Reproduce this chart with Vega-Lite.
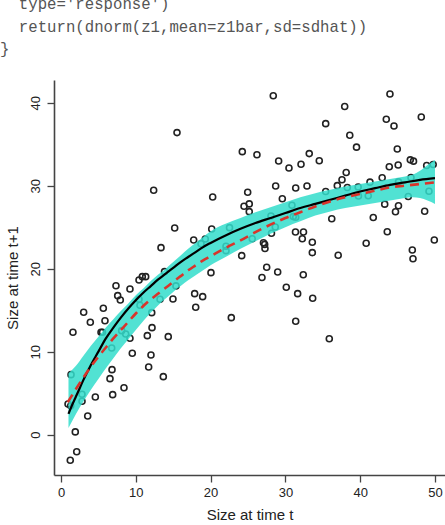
{
  "$schema": "https://vega.github.io/schema/vega-lite/v6.json",
  "width": 391,
  "height": 395,
  "autosize": {"type": "none"},
  "padding": {"left": 54, "top": 80, "right": 0, "bottom": 50},
  "background": "white",
  "title": {
    "text": ["\u200b\u00a0\u00a0type='response')", "\u200b\u00a0\u00a0return(dnorm(z1,mean=z1bar,sd=sdhat))", "}"],
    "anchor": "start",
    "frame": "group",
    "font": "Liberation Mono",
    "fontSize": 15.7,
    "fontWeight": "normal",
    "color": "#555555",
    "lineHeight": 22.5,
    "dx": -54,
    "offset": 22
  },
  "config": {
    "view": {"stroke": null},
    "axis": {
      "grid": false,
      "domainColor": "#444444",
      "domainWidth": 1.6,
      "tickColor": "#444444",
      "tickWidth": 1.3,
      "tickSize": 7,
      "labelFont": "Liberation Sans",
      "labelFontSize": 13,
      "labelColor": "#222222",
      "titleFont": "Liberation Sans",
      "titleFontSize": 15,
      "titleFontWeight": "normal",
      "titleColor": "#222222"
    }
  },
  "datasets": {
    "pts": [
      {"x":15.51,"y":36.39},{"x":12.39,"y":29.45},{"x":15.20,"y":24.90},{"x":13.37,"y":22.53},{"x":10.87,"y":19.04},{"x":11.32,"y":19.04},{"x":13.84,"y":19.64},{"x":28.38,"y":40.84},{"x":24.24,"y":34.10},{"x":26.20,"y":33.73},{"x":29.10,"y":32.98},{"x":33.19,"y":33.86},{"x":30.48,"y":32.13},{"x":32.09,"y":32.58},{"x":28.70,"y":29.96},{"x":31.38,"y":29.72},{"x":32.89,"y":29.96},{"x":20.28,"y":28.64},{"x":24.96,"y":29.20},{"x":29.59,"y":28.43},{"x":24.47,"y":27.52},{"x":25.17,"y":27.80},{"x":25.17,"y":26.87},{"x":30.88,"y":27.64},{"x":31.06,"y":26.27},{"x":31.38,"y":26.19},{"x":28.07,"y":26.35},{"x":20.15,"y":24.78},{"x":22.53,"y":24.94},{"x":28.65,"y":25.02},{"x":28.14,"y":24.27},{"x":31.35,"y":24.42},{"x":32.42,"y":24.42},{"x":32.26,"y":23.61},{"x":33.60,"y":23.18},{"x":17.74,"y":23.46},{"x":19.29,"y":23.58},{"x":18.72,"y":23.01},{"x":25.57,"y":23.61},{"x":27.07,"y":23.13},{"x":27.23,"y":22.92},{"x":27.27,"y":22.43},{"x":22.06,"y":22.70},{"x":22.06,"y":22.17},{"x":24.16,"y":21.57},{"x":33.60,"y":21.93},{"x":20.05,"y":19.52},{"x":27.50,"y":20.17},{"x":28.97,"y":19.60},{"x":26.87,"y":18.94},{"x":32.39,"y":19.27},{"x":43.98,"y":41.05},{"x":37.93,"y":39.54},{"x":35.39,"y":37.47},{"x":43.49,"y":38.00},{"x":44.52,"y":37.19},{"x":48.17,"y":38.28},{"x":38.61,"y":36.08},{"x":39.51,"y":34.64},{"x":44.96,"y":34.42},{"x":34.53,"y":33.01},{"x":43.89,"y":32.28},{"x":45.08,"y":32.49},{"x":46.70,"y":33.11},{"x":47.13,"y":32.95},{"x":48.89,"y":32.43},{"x":49.76,"y":32.55},{"x":38.13,"y":31.59},{"x":37.57,"y":30.71},{"x":36.94,"y":30.00},{"x":35.39,"y":29.30},{"x":38.28,"y":29.78},{"x":39.73,"y":29.84},{"x":41.31,"y":30.42},{"x":42.94,"y":30.95},{"x":45.12,"y":30.45},{"x":46.79,"y":30.99},{"x":49.20,"y":29.33},{"x":39.77,"y":28.76},{"x":41.08,"y":28.78},{"x":46.43,"y":28.70},{"x":43.28,"y":27.77},{"x":45.12,"y":27.58},{"x":44.72,"y":26.86},{"x":48.62,"y":26.92},{"x":36.20,"y":26.01},{"x":41.75,"y":26.17},{"x":43.62,"y":24.45},{"x":37.06,"y":21.61},{"x":40.80,"y":23.06},{"x":46.97,"y":22.25},{"x":47.06,"y":21.19},{"x":49.91,"y":23.46},{"x":7.35,"y":17.95},{"x":9.22,"y":17.55},{"x":10.43,"y":18.64},{"x":15.37,"y":17.92},{"x":7.58,"y":16.75},{"x":7.93,"y":16.23},{"x":10.43,"y":16.31},{"x":13.24,"y":16.31},{"x":14.97,"y":16.35},{"x":10.56,"y":15.59},{"x":3.03,"y":14.75},{"x":5.66,"y":15.23},{"x":12.13,"y":14.70},{"x":3.92,"y":13.54},{"x":5.88,"y":13.73},{"x":1.60,"y":12.34},{"x":5.35,"y":12.34},{"x":5.55,"y":12.34},{"x":8.11,"y":12.53},{"x":8.65,"y":12.13},{"x":9.22,"y":11.61},{"x":11.54,"y":11.93},{"x":12.17,"y":12.89},{"x":14.34,"y":11.81},{"x":6.78,"y":10.45},{"x":9.53,"y":9.81},{"x":12.03,"y":9.60},{"x":11.72,"y":8.16},{"x":13.68,"y":6.99},{"x":6.82,"y":7.83},{"x":6.55,"y":6.75},{"x":8.42,"y":5.66},{"x":6.91,"y":4.82},{"x":4.59,"y":4.54},{"x":2.81,"y":4.87},{"x":2.81,"y":4.02},{"x":1.34,"y":7.23},{"x":0.94,"y":3.70},{"x":1.30,"y":3.49},{"x":3.57,"y":2.25},{"x":1.91,"y":0.33},{"x":2.10,"y":-2.05},{"x":1.24,"y":-3.08},{"x":17.87,"y":16.99},{"x":18.94,"y":16.63},{"x":18.01,"y":15.35},{"x":22.77,"y":14.10},{"x":30.12,"y":17.76},{"x":31.64,"y":16.99},{"x":33.65,"y":16.43},{"x":31.38,"y":13.66},{"x":35.87,"y":11.55}
    ],
    "fit": [
      {"x":1,"y":2.5},{"x":1.5,"y":3.6},{"x":2,"y":4.6},{"x":2.5,"y":5.6},{"x":3,"y":6.6},{"x":4,"y":8.4},{"x":5,"y":10.0},{"x":6,"y":11.6},{"x":7,"y":12.9},{"x":8,"y":14.1},{"x":9,"y":15.2},{"x":10,"y":16.2},{"x":11,"y":17.1},{"x":12,"y":17.9},{"x":13,"y":18.7},{"x":14,"y":19.4},{"x":15,"y":20.1},{"x":16,"y":20.8},{"x":17,"y":21.4},{"x":18,"y":22.0},{"x":19,"y":22.6},{"x":20,"y":23.1},{"x":22,"y":24.0},{"x":24,"y":24.8},{"x":26,"y":25.5},{"x":28,"y":26.1},{"x":30,"y":26.7},{"x":32,"y":27.3},{"x":34,"y":27.8},{"x":36,"y":28.3},{"x":38,"y":28.8},{"x":40,"y":29.3},{"x":42,"y":29.7},{"x":44,"y":30.1},{"x":46,"y":30.4},{"x":48,"y":30.7},{"x":50,"y":30.9}
    ],
    "alt": [
      {"x":0.9,"y":3.9},{"x":2,"y":5.5},{"x":3,"y":6.9},{"x":4,"y":8.2},{"x":5,"y":9.4},{"x":6,"y":10.5},{"x":7,"y":11.6},{"x":8,"y":12.6},{"x":9,"y":13.6},{"x":10,"y":14.6},{"x":11,"y":15.5},{"x":12,"y":16.3},{"x":13,"y":17.0},{"x":14,"y":17.7},{"x":15,"y":18.4},{"x":16,"y":19.1},{"x":17,"y":19.8},{"x":18,"y":20.4},{"x":19,"y":21.0},{"x":20,"y":21.5},{"x":22,"y":22.5},{"x":24,"y":23.4},{"x":26,"y":24.4},{"x":28,"y":25.3},{"x":30,"y":26.1},{"x":32,"y":26.8},{"x":34,"y":27.5},{"x":36,"y":28.1},{"x":38,"y":28.6},{"x":40,"y":29.0},{"x":42,"y":29.4},{"x":44,"y":29.8},{"x":46,"y":30.0},{"x":48,"y":30.2},{"x":50,"y":30.4}
    ],
    "band": [
      {"x":1,"lo":0.8,"hi":7.4},{"x":2,"lo":2.5,"hi":8.3},{"x":3,"lo":4.0,"hi":9.5},{"x":4,"lo":5.4,"hi":10.7},{"x":5,"lo":6.7,"hi":11.8},{"x":6,"lo":8.0,"hi":12.9},{"x":7,"lo":9.2,"hi":13.9},{"x":8,"lo":10.4,"hi":14.9},{"x":9,"lo":11.5,"hi":15.8},{"x":10,"lo":12.6,"hi":16.8},{"x":11,"lo":13.7,"hi":17.6},{"x":12,"lo":14.7,"hi":18.5},{"x":13,"lo":15.6,"hi":19.3},{"x":14,"lo":16.4,"hi":20.0},{"x":15,"lo":17.2,"hi":20.8},{"x":16,"lo":17.9,"hi":21.6},{"x":17,"lo":18.6,"hi":22.4},{"x":18,"lo":19.2,"hi":23.1},{"x":19,"lo":19.8,"hi":23.8},{"x":20,"lo":20.4,"hi":24.5},{"x":22,"lo":21.4,"hi":25.4},{"x":24,"lo":22.4,"hi":26.1},{"x":26,"lo":23.3,"hi":26.8},{"x":28,"lo":24.2,"hi":27.4},{"x":30,"lo":25.0,"hi":28.0},{"x":32,"lo":25.7,"hi":28.6},{"x":34,"lo":26.4,"hi":29.1},{"x":36,"lo":26.9,"hi":29.5},{"x":38,"lo":27.3,"hi":29.9},{"x":40,"lo":27.6,"hi":30.2},{"x":42,"lo":27.9,"hi":30.5},{"x":44,"lo":28.2,"hi":30.8},{"x":46,"lo":28.5,"hi":31.1},{"x":47,"lo":28.6,"hi":31.3},{"x":48,"lo":28.5,"hi":31.8},{"x":49,"lo":28.2,"hi":32.5},{"x":50,"lo":27.8,"hi":33.1}
    ]
  },
  "layer": [
    {
      "data": {"name": "pts"},
      "mark": {"type": "point", "shape": "circle", "filled": false, "stroke": "#222222", "strokeWidth": 1.6, "size": 36, "opacity": 1},
      "encoding": {
        "x": {"field": "x", "type": "quantitative", "scale": {"domain": [-0.936, 51.34], "nice": false, "zero": false},
          "axis": {"values": [0, 10, 20, 30, 40, 50], "title": "Size at time t", "labelPadding": 4, "titlePadding": 8}},
        "y": {"field": "y", "type": "quantitative", "scale": {"domain": [-4.86, 42.73], "nice": false, "zero": false},
          "axis": {"values": [0, 10, 20, 30, 40], "title": "Size at time t+1", "labelAngle": -90, "labelAlign": "center", "labelBaseline": "bottom", "labelPadding": 5, "titlePadding": 9}}
      }
    },
    {
      "data": {"name": "band"},
      "mark": {"type": "area", "color": "#33DDCB", "opacity": 0.85, "interpolate": "monotone"},
      "encoding": {
        "x": {"field": "x", "type": "quantitative"},
        "y": {"field": "lo", "type": "quantitative"},
        "y2": {"field": "hi"}
      }
    },
    {
      "data": {"name": "fit"},
      "mark": {"type": "line", "color": "#000000", "strokeWidth": 2.2, "interpolate": "monotone"},
      "encoding": {
        "x": {"field": "x", "type": "quantitative"},
        "y": {"field": "y", "type": "quantitative"}
      }
    },
    {
      "data": {"name": "alt"},
      "mark": {"type": "line", "color": "#D9342B", "strokeWidth": 2.6, "strokeDash": [9, 6], "interpolate": "monotone"},
      "encoding": {
        "x": {"field": "x", "type": "quantitative"},
        "y": {"field": "y", "type": "quantitative"}
      }
    }
  ]
}
